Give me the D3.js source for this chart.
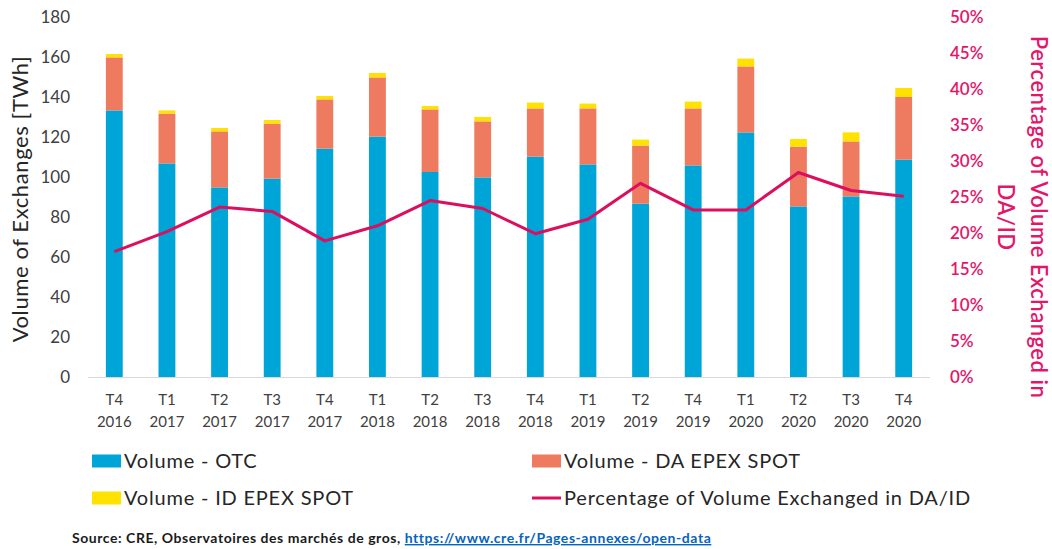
<!DOCTYPE html>
<html>
<head>
<meta charset="utf-8">
<script src="https://cdn.jsdelivr.net/npm/d3@7"></script>
<style>
  body { margin: 0; background: #fff; }
  svg { display: block; font-family: Lato, "Open Sans", sans-serif; }
</style>
</head>
<body>
<svg id="chart" width="1052" height="549"></svg>
<script>
// Quarters shown on the x axis (two lines each)
const quarters = ['T4', 'T1', 'T2', 'T3', 'T4', 'T1', 'T2', 'T3', 'T4', 'T1', 'T2', 'T4', 'T1', 'T2', 'T3', 'T4'];
const years = ['2016', '2017', '2017', '2017', '2017', '2018', '2018', '2018', '2018', '2019', '2019', '2019', '2020', '2020', '2020', '2020'];

// Volumes in TWh
const otc = [133.3, 106.8, 94.8, 99.2, 114.2, 120.2, 102.5, 99.8, 110.2, 106.3, 86.7, 105.8, 122.3, 85.3, 90.3, 108.7];
const daSpot = [26.5, 24.9, 28.0, 27.5, 24.6, 29.6, 31.3, 28.0, 24.1, 28.0, 29.0, 28.5, 33.0, 29.9, 27.5, 31.3];
const idSpot = [1.7, 1.6, 1.7, 1.8, 1.7, 2.2, 1.7, 2.2, 2.9, 2.4, 3.0, 3.4, 3.9, 3.8, 4.5, 4.5];

// Share of volume exchanged in DA/ID
const pctDaId = [0.174, 0.202, 0.236, 0.230, 0.189, 0.210, 0.245, 0.234, 0.199, 0.219, 0.269, 0.232, 0.232, 0.284, 0.259, 0.251];

const leftTicks = [0, 20, 40, 60, 80, 100, 120, 140, 160, 180];
const rightTicks = [0, 0.05, 0.1, 0.15, 0.2, 0.25, 0.3, 0.35, 0.4, 0.45, 0.5];

const colors = { otc: '#00A5D8', da: '#EE7A5F', id: '#FFE200', line: '#DC0F5E', pink: '#E4166A' };

const margin = { top: 17, right: 122, bottom: 172, left: 88 };
const width = 1052 - margin.left - margin.right;
const height = 549 - margin.top - margin.bottom;

const svg = d3.select('#chart');
const g = svg.append('g').attr('transform', `translate(${margin.left},${margin.top})`);

const idx = d3.range(quarters.length);

const x = d3.scaleBand().domain(idx).range([0, width]).paddingInner(0.68).paddingOuter(0.34);
const y = d3.scaleLinear().domain([0, 180]).range([height, 0]);
const yPct = d3.scaleLinear().domain([0, 0.5]).range([height, 0]);

// Stack the three volumes
const rows = idx.map(i => ({ i, otc: otc[i], da: daSpot[i], id: idSpot[i] }));
const stack = d3.stack().keys(['otc', 'da', 'id'])(rows);
const fills = { otc: colors.otc, da: colors.da, id: colors.id };

g.selectAll('.layer')
    .data(stack)
    .enter()
    .append('g')
    .attr('fill', d => fills[d.key])
    .selectAll('rect')
    .data(d => d)
    .enter()
    .append('rect')
    .attr('x', d => x(d.data.i))
    .attr('y', d => y(d[1]))
    .attr('width', x.bandwidth())
    .attr('height', d => y(d[0]) - y(d[1]));

// Baseline
g.append('line')
    .attr('x1', 0)
    .attr('x2', width)
    .attr('y1', height + 0.5)
    .attr('y2', height + 0.5)
    .attr('stroke', '#D9D9D9')
    .attr('stroke-width', 1);

// Percentage line
const line = d3.line()
    .x((d, i) => x(i) + x.bandwidth() / 2)
    .y(d => yPct(d));

g.append('path')
    .datum(pctDaId)
    .attr('fill', 'none')
    .attr('stroke', colors.line)
    .attr('stroke-width', 3)
    .attr('stroke-linejoin', 'round')
    .attr('d', line);

// Left axis
const yAxis = g.append('g')
    .call(d3.axisLeft(y).tickValues(leftTicks).tickSize(0).tickPadding(18))
    .call(a => a.select('.domain').remove());
yAxis.selectAll('text')
    .attr('fill', '#404040')
    .style('font-size', '17px')
    .style('font-family', 'Lato, sans-serif');

// Right axis
const yAxisR = g.append('g')
    .attr('transform', `translate(${width},0)`)
    .call(d3.axisRight(yPct).tickValues(rightTicks).tickSize(0).tickPadding(20).tickFormat(d3.format('.0%')))
    .call(a => a.select('.domain').remove());
yAxisR.selectAll('text')
    .attr('fill', colors.pink)
    .style('font-size', '17px')
    .style('font-weight', '600')
    .style('font-family', 'Lato, sans-serif');

// X labels (quarter over year)
const xl = g.append('g').attr('fill', '#404040').style('font-size', '15px');
xl.selectAll('.q')
    .data(idx)
    .enter()
    .append('text')
    .attr('x', i => x(i) + x.bandwidth() / 2)
    .attr('y', height + 28)
    .attr('text-anchor', 'middle')
    .text(i => quarters[i]);
xl.selectAll('.yr')
    .data(idx)
    .enter()
    .append('text')
    .attr('x', i => x(i) + x.bandwidth() / 2)
    .attr('y', height + 50)
    .attr('text-anchor', 'middle')
    .text(i => years[i]);

// Axis titles
svg.append('text')
    .attr('transform', `translate(28,199) rotate(-90)`)
    .attr('text-anchor', 'middle')
    .attr('fill', '#262626')
    .style('font-size', '22px')
    .style('letter-spacing', '0.6px')
    .text('Volume of Exchanges [TWh]');

const rt = svg.append('text')
    .attr('transform', `translate(1031,217) rotate(90)`)
    .attr('text-anchor', 'middle')
    .attr('fill', colors.pink)
    .style('font-size', '22px')
    .style('font-weight', '600')
    .style('letter-spacing', '0.5px');
rt.append('tspan').attr('x', 0).attr('dy', 0).text('Percentage of Volume Exchanged in');
rt.append('tspan').attr('x', 0).attr('dy', 33).text('DA/ID');

// Legend
const legend = [
    { label: 'Volume - OTC', color: colors.otc, type: 'rect', x: 92, y: 461 },
    { label: 'Volume - DA EPEX SPOT', color: colors.da, type: 'rect', x: 532, y: 461 },
    { label: 'Volume - ID EPEX SPOT', color: colors.id, type: 'rect', x: 92, y: 498 },
    { label: 'Percentage of Volume Exchanged in DA/ID', color: colors.line, type: 'line', x: 532, y: 498 }
];
const lg = svg.selectAll('.legend')
    .data(legend)
    .enter()
    .append('g')
    .attr('transform', d => `translate(${d.x},${d.y})`);
lg.filter(d => d.type === 'rect')
    .append('rect')
    .attr('x', 0)
    .attr('y', -6.5)
    .attr('width', 29)
    .attr('height', 13)
    .attr('fill', d => d.color);
lg.filter(d => d.type === 'line')
    .append('line')
    .attr('x1', 0)
    .attr('x2', 29)
    .attr('y1', 0)
    .attr('y2', 0)
    .attr('stroke', d => d.color)
    .attr('stroke-width', 3);
lg.append('text')
    .attr('x', 32)
    .attr('y', 0)
    .attr('dy', '0.35em')
    .attr('fill', '#262626')
    .style('font-size', '20px')
    .style('letter-spacing', '0.8px')
    .text(d => d.label);

// Source
const src = svg.append('text')
    .attr('x', 72)
    .attr('y', 543)
    .attr('fill', '#1a1a1a')
    .style('font-size', '14px')
    .style('font-weight', 'bold')
    .style('letter-spacing', '0.55px');
src.append('tspan').text('Source: CRE, Observatoires des marchés de gros, ');
src.append('tspan')
    .attr('fill', '#0563C1')
    .attr('text-decoration', 'underline')
    .text('https://www.cre.fr/Pages-annexes/open-data');
</script>
</body>
</html>
